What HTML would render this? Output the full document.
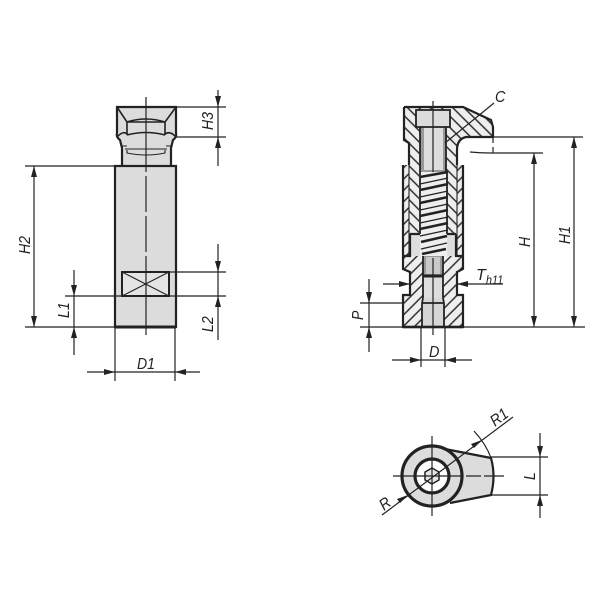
<!DOCTYPE html>
<html><head><meta charset="utf-8"><style>
html,body{margin:0;padding:0;background:#fff;width:600px;height:600px;overflow:hidden}
svg{display:block}
text{font-family:"Liberation Sans",sans-serif;font-style:italic;font-size:16px;fill:#222}
.o{fill:none;stroke:#222;stroke-width:2.2}
.t{fill:none;stroke:#222;stroke-width:1.1}
.d{fill:none;stroke:#222;stroke-width:1.2}
.a{fill:#222;stroke:none}
.g{fill:#dcdcdc;stroke:none}
</style></head><body>
<svg width="600" height="600" viewBox="0 0 600 600" xmlns="http://www.w3.org/2000/svg">
<defs>
<pattern id="sl" width="8" height="8" patternUnits="userSpaceOnUse" patternTransform="rotate(45)"><rect width="8" height="8" fill="#eee"/><line x1="4" y1="0" x2="4" y2="8" stroke="#222" stroke-width="1.4"/></pattern>
<pattern id="bs" width="8" height="8" patternUnits="userSpaceOnUse" patternTransform="rotate(-45)"><rect width="8" height="8" fill="#eee"/><line x1="4" y1="0" x2="4" y2="8" stroke="#222" stroke-width="1.4"/></pattern>
</defs>

<!-- LEFT VIEW -->
<path class="g" d="M117 107H176V133L173 140 171 148V166H122V148L120 140 117 133Z"/>
<rect class="g" x="115" y="166" width="61" height="161"/>
<path class="o" d="M122 166V148L120 140Q116 137 117 133V107H176V133Q177 137 173 140L171 148V166"/>
<path fill="none" stroke="#222" stroke-width="1.6" d="M117 107L127 122V135M176 107L165 122V135M127 122Q146 116 165 122M127 135Q146 130 165 135M118 136Q124 130 128 135M175 136Q169 130 164 135M128 122H165"/>
<path class="t" d="M125 149H167M127 150V153Q146 157 165 153V150M122 146H127M166 146H171"/>
<rect class="o" x="115" y="166" width="61" height="161"/>
<path fill="none" stroke="#222" stroke-width="3" d="M115 327H176"/>
<path fill="none" stroke="#222" stroke-width="2" d="M115 166H176"/>
<rect x="122" y="272" width="47" height="24" fill="#e4e4e4" stroke="#222" stroke-width="2"/>
<path class="t" d="M122 272L169 296M122 296L169 272"/>
<path class="d" d="M146 97V172M146 176V212M146 216V252M146 256V335"/>

<!-- left dims -->
<path class="d" d="M176 107H226M176 137H226M218 90V166"/>
<path class="a" d="M218 107l-3-11h6zM218 137l-3 11h6z"/>
<text transform="translate(213 130) rotate(-90) scale(.88 1)">H3</text>
<path class="d" d="M25 166H115M25 327H115M34 166V327"/>
<path class="a" d="M34 166l-3 11h6zM34 327l-3-11h6z"/>
<text transform="translate(30 254) rotate(-90) scale(.88 1)">H2</text>
<path class="d" d="M65 296H226M74 270V355M169 272H226M218 244V340"/>
<path class="a" d="M74 296l-3-11h6zM74 327l-3 11h6zM218 272l-3-11h6zM218 296l-3 11h6z"/>
<text transform="translate(69 318) rotate(-90) scale(.88 1)">L1</text>
<text transform="translate(213 332) rotate(-90) scale(.88 1)">L2</text>
<path class="d" d="M115 327V381M175 327V381M87 372H200"/>
<path class="a" d="M115 372l-11-3v6zM175 372l11-3v6z"/>
<text transform="translate(137 369) scale(.88 1)">D1</text>

<!-- RIGHT VIEW: hatched bodies -->
<path fill="url(#bs)" d="M404 107H463L491 120 493 127V137H466Q457 139 457 150V234H447V172H446V127H450V110H416V127H420V172H419V234H409V143L404 140Z"/>
<path fill="url(#sl)" d="M403 165H409V256H403ZM457 165H463V256H457Z"/>
<rect class="g" x="416" y="110" width="34" height="17"/>
<rect x="420" y="127" width="26" height="45" fill="#999"/>
<rect x="424" y="127" width="19" height="43" fill="#ddd"/>
<rect x="410" y="234" width="46" height="22" fill="#dedede"/>
<rect x="420" y="172" width="27" height="84" fill="#eee"/>
<path fill="url(#sl)" d="M403 256H423V327H403V295H410V272L403 269Z"/>
<path fill="url(#sl)" d="M443 256H463V269L457 272V295H463V327H444V298H443Z"/>
<rect x="423" y="256" width="20" height="20" fill="#999"/>
<rect x="426" y="257" width="14" height="17" fill="#c9c9c9"/>
<rect x="423" y="276" width="20" height="22" fill="#ddd"/>
<rect x="422" y="298" width="22" height="29" fill="#d6d6d6"/>

<!-- spring -->
<g stroke="#222" stroke-width="2.6" fill="none">
<path d="M420 177L448 172M420 190L448 184M420 203L448 197M420 216L448 210M420 229L448 223M421 242L447 236M422 254L446 249"/>
<path d="M420 184L448 178M420 197L448 191M420 210L448 204M420 223L448 217M420 236L448 230M421 249L447 243" stroke-width="1.3"/>
</g>

<path class="o" d="M404 107H463L491 120 493 127V137H466Q457 139 457 150V165M404 107V140L409 143V165"/>
<path class="o" d="M403 165V256M463 165V256M403 256V269L410 272V295H403V327H463V295H457V272L463 269V256"/>
<path class="t" d="M409 143V256M457 150V256"/>
<path class="o" d="M410 234V256H403M456 234V256H463M410 234H420M447 234H456"/>
<path fill="none" stroke="#222" stroke-width="1.8" d="M420 172V234M447 172V234M416 110H450V127H416ZM420 127V172M446 127V172"/>
<path fill="none" stroke="#222" stroke-width="1.8" d="M423 256V298M443 256V298M422 303V327M444 303V327M423 298L422 303M443 298L444 303M422 303H444"/>
<path fill="none" stroke="#222" stroke-width="3" d="M423 276H443"/>
<path fill="none" stroke="#222" stroke-width="2.6" d="M403 327H463"/>
<path class="d" d="M433 101V172M433 258V335"/>

<!-- right dims -->
<path class="d" d="M493 137H583M470 152Q480 153 490 153H543M493 137V143M493 147V153M574 137V327M534 153V327M360 327H585"/>
<path class="a" d="M574 137l-3 11h6zM534 153l-3 11h6zM574 327l-3-11h6zM534 327l-3-11h6z"/>
<text transform="translate(530 247) rotate(-90) scale(.88 1)">H</text>
<text transform="translate(570 244) rotate(-90) scale(.88 1)">H1</text>
<path class="d" d="M445 143L494 103"/>
<text transform="translate(495 102) scale(.9 1)">C</text>
<path class="d" d="M383 284H410M457 284H503"/>
<path class="a" d="M410 284l-11-3v6zM457 284l11-3v6z"/>
<text x="476" y="280">T</text><text transform="translate(486 284) scale(.9 1)" style="font-size:12px">h11</text>
<path class="d" d="M360 303H403M369 279V352"/>
<path class="a" d="M369 303l-3-11h6zM369 327l-3 11h6z"/>
<text transform="translate(363 320) rotate(-90) scale(.88 1)">P</text>
<path class="d" d="M421 327V367M445 327V367M392 360H472"/>
<path class="a" d="M421 360l-11-3v6zM445 360l11-3v6z"/>
<text transform="translate(429 357) scale(.9 1)">D</text>

<!-- BOTTOM VIEW -->
<path class="g" d="M445 449L491 458Q495 476 491 495L450 503Z"/>
<circle cx="432" cy="476" r="30" fill="#dcdcdc" stroke="#222" stroke-width="3.2"/>
<circle cx="432" cy="476" r="17" fill="#fff" stroke="#222" stroke-width="3.2"/>
<path fill="#e6e6e6" stroke="#222" stroke-width="1.5" d="M432 468L439 472V480L432 484 425 480V472Z"/>
<path class="o" d="M445 449L491 458Q496 476 491 495L450 503" stroke-width="2"/>
<path class="d" d="M474 431Q486 444 491 458M432 436V516M393 476H462M466 476H481M484 476H504M382 515L513 417"/>
<path class="a" d="M482 440l-8 8-3-4zM408 495l-8 8-3-4z"/>
<text transform="translate(495 427) rotate(-37) scale(.9 1)">R1</text>
<text transform="translate(384 511) rotate(-37) scale(.9 1)">R</text>
<path class="d" d="M491 457H548M491 495H548M540 433V518"/>
<path class="a" d="M540 457l-3-11h6zM540 495l-3 11h6z"/>
<text transform="translate(535 480) rotate(-90) scale(.88 1)">L</text>
</svg>
</body></html>
